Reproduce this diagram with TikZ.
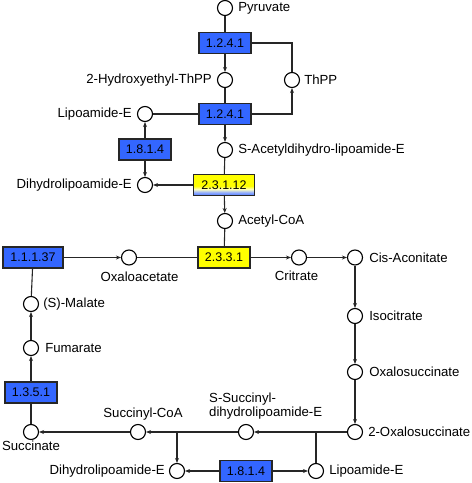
\documentclass[tikz,border=0pt]{standalone}
\usepackage{fontspec}
\setmainfont{Liberation Sans}
\usepackage{tikz}
\usetikzlibrary{positioning, arrows.meta, calc}
\definecolor{keggblue}{rgb}{0.2, 0.4, 1.0}
\definecolor{keggyellow}{rgb}{1.0, 1.0, 0.0}
\pgfdeclareverticalshading{yellowblue}{100bp}{color(0bp)=(keggblue!85!white); color(25bp)=(keggblue!85!white); color(32bp)=(keggblue!55!white); color(40bp)=(keggyellow!25!white); color(48bp)=(keggyellow); color(100bp)=(keggyellow)}

\begin{document}
\begin{tikzpicture}[x=1pt, y=-1pt, >={Stealth[length=5pt, width=4pt]}]
	\tikzstyle{met}=[circle, draw=black, fill=white, minimum size=15pt, inner sep=0pt, line width=1.1pt]
	\tikzstyle{enz}=[draw=black!85, line width=1.1pt, minimum height=21pt, minimum width=52pt, inner sep=0pt, fill=keggblue, text=black, font=\fontsize{12.5}{14}\selectfont]
	\tikzstyle{lbl}=[inner sep=0pt, text=black, font=\fontsize{13.2}{14}\selectfont]
	\tikzstyle{rxn}=[draw=black!85, line width=1.1pt]

	\useasboundingbox (0,0) rectangle (472,483);

	%% pyruvate dehydrogenase part
	\node [met] (p1) at (225,8) {};
	\node [lbl, right=5pt of p1] (p1L) {Pyruvate};
	\node [enz] (e1) at (225,43) {1.2.4.1};
	\node [met] (h1) at (225,80) {};
	\node [lbl, left=5pt of h1] (h1L) {2-Hydroxyethyl-ThPP};
	\node [met] (t1) at (292,80) {};
	\node [lbl, right=4pt of t1] (t1L) {ThPP};
	\node [enz] (e2) at (225,114) {1.2.4.1};
	\node [met] (l1) at (145,114) {};
	\node [lbl, left=5pt of l1] (l1L) {Lipoamide-E};
	\node [met] (sa) at (225,150) {};
	\node [lbl, right=5pt of sa] (saL) {S-Acetyldihydro-lipoamide-E};
	\node [enz] (e3) at (145,149.5) {1.8.1.4};
	\node [met] (d1) at (145,185) {};
	\node [lbl, left=5pt of d1] (d1L) {Dihydrolipoamide-E};
	\node [enz, minimum width=61pt, shading=yellowblue] (e4) at (224,185) {2.3.1.12};
	\node [met] (ac) at (225,221) {};
	\node [lbl, right=5pt of ac] (acL) {Acetyl-CoA};

	%% citrate cycle
	\node [enz, fill=keggyellow] (e5) at (224,257.5) {2.3.3.1};
	\node [met] (oa) at (129,257.5) {};
	\node [lbl] (oaL) at (139.5,277) {Oxaloacetate};
	\node [enz, minimum width=60pt] (e6) at (33,257.5) {1.1.1.37};
	\node [met] (ci) at (299,257.5) {};
	\node [lbl] (ciL) at (296.5,276) {Critrate};
	\node [met] (ca) at (355,257.5) {};
	\node [lbl, right=6pt of ca] (caL) {Cis-Aconitate};
	\node [met] (ic) at (355,316) {};
	\node [lbl, right=6pt of ic] (icL) {Isocitrate};
	\node [met] (os) at (355,372) {};
	\node [lbl, right=6pt of os] (osL) {Oxalosuccinate};
	\node [met] (os2) at (355,432) {};
	\node [lbl, right=5pt of os2] (os2L) {2-Oxalosuccinate};
	\node [met] (ss) at (246,432) {};
	\node [lbl, align=left, anchor=west] (ssL) at (209,406) {S-Succinyl-\\dihydrolipoamide-E};
	\node [met] (sc) at (138,432) {};
	\node [lbl] (scL) at (143,414) {Succinyl-CoA};
	\node [met] (su) at (31,432) {};
	\node [lbl] (suL) at (31,446) {Succinate};
	\node [enz] (e7) at (31,392.5) {1.3.5.1};
	\node [met] (fu) at (31,348) {};
	\node [lbl, right=6pt of fu] (fuL) {Fumarate};
	\node [met] (ma) at (31,304) {};
	\node [lbl, right=4pt of ma] (maL) {(S)-Malate};
	\node [met] (d2) at (177,471) {};
	\node [lbl, left=4pt of d2] (d2L) {Dihydrolipoamide-E};
	\node [enz] (e8) at (246,471) {1.8.1.4};
	\node [met] (l2) at (316,471) {};
	\node [lbl, right=5pt of l2] (l2L) {Lipoamide-E};

	%% reactions
	\draw [rxn] (p1) -- (e1);
	\draw [rxn, ->] (e1) -- (h1);
	\draw [rxn] (e1.east) -| (t1.north);
	\draw [rxn] (h1) -- (e2);
	\draw [rxn, ->] (e2.east) -| (t1.south);
	\draw [rxn] (l1) -- (e2);
	\draw [rxn, ->] (e2) -- (sa);
	\draw [rxn, ->] (e3) -- (l1);
	\draw [rxn, ->] (e3) -- (d1);
	\draw [rxn] (sa) -- (e4);
	\draw [rxn, ->] (e4) -- (d1);
	\draw [rxn, ->] (e4) -- (ac);
	\draw [rxn] (ac) -- (e5);
	\draw [rxn, ->] (e6) -- (oa);
	\draw [rxn] (oa) -- (e5);
	\draw [rxn, ->] (e5) -- (ci);
	\foreach \a/\b in {ci/ca, ca/ic, ic/os, os/os2, os2/ss, ss/sc, sc/su}
		\draw [rxn, ->] (\a) -- (\b);
	\draw [rxn] (l2 |- os2) -- (l2);
	\draw [rxn, ->] (d2 |- ss) -- (d2);
	\draw [rxn, ->] (e8) -- (d2);
	\draw [rxn, ->] (e8) -- (l2);
	\draw [rxn] (su) -- (e7);
	\draw [rxn, ->] (e7) -- (fu);
	\draw [rxn, ->] (fu) -- (ma);
	\draw [rxn] (e6) -- (ma);
\end{tikzpicture}
\end{document}
